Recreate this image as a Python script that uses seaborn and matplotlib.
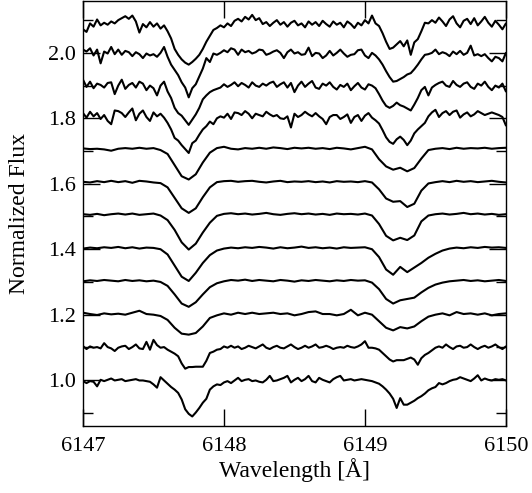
import numpy as np
import pandas as pd
import seaborn as sns
import matplotlib
matplotlib.use("Agg")
from matplotlib import pyplot as plt
from matplotlib.ticker import MultipleLocator, FormatStrFormatter

# wavelength sampling in Angstrom: fine grid for the noisy spectra, coarse for the smooth ones
wave_fine = np.linspace(6147.0, 6150.0, 121)
wave_coarse = np.linspace(6147.0, 6150.0, 61)

# vertical shift of each spectrum, bottom to top
offsets = [0.0, 0.102, 0.202, 0.304, 0.404, 0.507, 0.606, 0.708, 0.811, 0.903, 1.0, 1.084]

# normalized flux, bottom spectrum first
spec01 = [0.997, 0.991, 0.997, 0.995, 0.981, 1.001, 0.997, 1.001, 1.005, 0.999,
          1.001, 1.003, 0.997, 0.999, 1.001, 1.003, 0.999, 0.999, 0.997, 0.995,
          0.987, 0.977, 1.009, 0.999, 0.989, 0.979, 0.971, 0.961, 0.941, 0.911,
          0.897, 0.889, 0.901, 0.915, 0.931, 0.943, 0.971, 0.981, 0.987, 0.985,
          0.993, 0.997, 0.991, 0.999, 1.007, 0.997, 1.001, 1.003, 0.997, 0.999,
          0.995, 0.993, 1.001, 1.013, 0.997, 0.999, 1.003, 1.007, 1.013, 0.993,
          1.001, 1.007, 0.997, 1.003, 1.013, 0.997, 0.993, 1.007, 1.001, 0.997,
          0.993, 1.003, 1.009, 1.013, 0.999, 1.001, 1.003, 0.999, 1.001, 1.003,
          1.001, 0.999, 0.997, 0.993, 0.989, 0.981, 0.971, 0.959, 0.943, 0.915,
          0.945, 0.925, 0.925, 0.931, 0.937, 0.945, 0.951, 0.959, 0.969, 0.975,
          0.979, 0.991, 0.987, 0.991, 0.997, 1.001, 1.003, 1.009, 1.005, 1.001,
          0.997, 1.005, 1.015, 0.999, 1.005, 1.001, 0.999, 1.003, 1.001, 1.003,
          0.999]
spec02 = [1.002, 0.993, 1.001, 0.997, 0.999, 0.995, 1.011, 0.999, 0.995, 0.987,
          0.997, 1.001, 1.003, 0.993, 0.999, 1.007, 0.995, 0.993, 1.015, 0.991,
          1.021, 1.005, 0.997, 0.999, 0.991, 0.985, 0.979, 0.971, 0.949, 0.933,
          0.938, 0.938, 0.939, 0.939, 0.939, 0.957, 0.981, 0.985, 0.991, 0.993,
          1.001, 0.997, 1.003, 0.997, 1.001, 0.993, 0.997, 1.003, 0.999, 0.995,
          1.001, 1.007, 0.997, 0.993, 0.999, 1.003, 0.997, 0.995, 1.001, 1.007,
          0.999, 0.993, 0.997, 1.003, 0.997, 1.001, 1.007, 0.997, 0.999, 1.003,
          0.999, 0.993, 0.997, 0.999, 0.997, 1.003, 0.999, 0.997, 1.001, 1.007,
          1.017, 0.997, 0.997, 0.995, 0.991, 0.981, 0.971, 0.961, 0.955, 0.959,
          0.959, 0.959, 0.963, 0.967, 0.961, 0.945, 0.965, 0.975, 0.981, 0.989,
          0.997, 1.001, 0.997, 1.007, 0.999, 0.993, 1.001, 1.003, 0.997, 0.999,
          1.007, 0.999, 0.993, 0.999, 1.003, 0.997, 1.001, 1.007, 0.999, 0.993,
          1.001]
spec03 = [1.004, 1.000, 0.997, 1.002, 0.999, 1.001, 0.998, 1.004, 1.010, 1.000,
          0.998, 0.994, 0.982, 0.958, 0.940, 0.937, 0.942, 0.962, 0.988, 0.996,
          1.002, 0.998, 1.004, 1.000, 1.004, 1.000, 1.002, 1.004, 1.000, 1.002,
          0.996, 1.000, 1.006, 1.008, 1.000, 1.000, 0.996, 1.000, 1.013, 0.996,
          1.004, 0.998, 0.978, 0.958, 0.950, 0.960, 0.956, 0.962, 0.978, 0.992,
          0.998, 1.002, 0.996, 1.006, 1.000, 1.002, 0.998, 1.002, 0.996, 1.000,
          1.002]
spec04 = [0.998, 1.001, 0.999, 1.002, 1.000, 0.998, 1.002, 0.999, 1.001, 0.998,
          1.000, 0.996, 0.984, 0.958, 0.930, 0.920, 0.934, 0.958, 0.980, 0.992,
          0.998, 1.002, 1.000, 1.003, 0.999, 1.002, 1.000, 0.998, 1.002, 1.000,
          0.997, 1.001, 0.999, 1.002, 1.000, 0.998, 1.001, 0.999, 1.002, 1.000,
          1.001, 0.994, 0.974, 0.944, 0.930, 0.940, 0.944, 0.948, 0.964, 0.978,
          0.988, 0.994, 0.998, 1.000, 1.002, 0.999, 1.001, 0.998, 1.000, 1.002,
          0.999]
spec05 = [0.998, 1.001, 0.999, 1.002, 1.000, 1.003, 0.999, 1.002, 0.998, 1.001,
          1.000, 0.996, 0.980, 0.946, 0.912, 0.899, 0.924, 0.954, 0.978, 0.992,
          0.998, 1.001, 0.999, 1.002, 1.000, 1.003, 1.001, 0.998, 1.002, 0.999,
          1.001, 1.004, 1.000, 1.002, 0.999, 1.001, 0.998, 1.002, 1.000, 1.001,
          1.002, 0.996, 0.972, 0.934, 0.918, 0.942, 0.926, 0.940, 0.954, 0.970,
          0.982, 0.992, 0.998, 1.001, 0.999, 1.002, 1.000, 1.003, 1.001, 1.002,
          1.000]
spec06 = [1.000, 0.998, 1.001, 0.997, 1.000, 1.002, 0.999, 1.002, 0.998, 1.000,
          1.002, 0.996, 0.982, 0.952, 0.914, 0.892, 0.910, 0.944, 0.974, 0.995,
          1.001, 1.003, 1.000, 1.002, 0.999, 1.001, 1.004, 1.000, 0.998, 1.001,
          1.003, 1.000, 1.002, 0.999, 1.001, 0.998, 1.002, 1.000, 1.001, 0.999,
          1.002, 0.996, 0.970, 0.934, 0.920, 0.928, 0.921, 0.935, 0.978, 0.996,
          1.000, 1.002, 0.999, 1.001, 1.004, 1.000, 1.002, 0.999, 1.001, 0.998,
          1.000]
spec07 = [1.000, 0.998, 1.002, 0.999, 1.003, 0.999, 1.002, 0.997, 1.003, 1.001,
          0.998, 0.996, 0.983, 0.951, 0.919, 0.905, 0.919, 0.953, 0.983, 0.999,
          1.002, 1.003, 1.000, 1.002, 1.003, 1.000, 0.998, 1.001, 1.003, 0.999,
          1.001, 1.000, 1.002, 0.999, 1.001, 0.998, 1.002, 1.000, 1.001, 0.999,
          1.002, 0.998, 0.977, 0.949, 0.939, 0.941, 0.923, 0.933, 0.973, 0.995,
          0.999, 1.002, 0.999, 1.003, 1.000, 1.002, 0.999, 1.001, 1.003, 1.000,
          0.998]
spec08 = [1.000, 0.998, 0.999, 0.997, 0.993, 0.999, 1.001, 0.999, 1.002, 0.999,
          1.001, 0.995, 0.983, 0.949, 0.915, 0.905, 0.921, 0.957, 0.987, 1.001,
          1.005, 0.999, 0.997, 1.001, 0.999, 1.002, 0.999, 1.003, 1.001, 0.998,
          1.002, 1.000, 1.002, 0.999, 1.001, 0.998, 1.002, 1.000, 0.997, 1.001,
          1.005, 0.997, 0.967, 0.945, 0.935, 0.941, 0.930, 0.940, 0.969, 0.995,
          0.999, 1.001, 0.998, 1.002, 0.999, 1.001, 1.000, 1.002, 0.999, 1.001,
          1.002]
spec09 = [1.005, 0.991, 1.009, 0.995, 1.005, 0.987, 0.999, 0.981, 0.971, 1.013,
          1.011, 1.005, 0.993, 1.007, 1.019, 0.983, 1.003, 1.013, 0.993, 0.981,
          1.007, 0.995, 1.003, 0.991, 0.975, 0.955, 0.929, 0.921, 0.907, 0.895,
          0.883, 0.913, 0.921, 0.939, 0.955, 0.965, 0.979, 0.971, 0.989, 0.995,
          0.991, 1.003, 0.987, 1.007, 1.005, 0.999, 1.011, 1.003, 0.989, 1.003,
          0.999, 0.995, 1.009, 1.001, 0.995, 0.999, 0.989, 0.987, 0.995, 0.961,
          1.003, 0.993, 0.999, 1.009, 1.001, 0.995, 1.005, 0.995, 0.987, 0.971,
          0.993, 0.999, 0.999, 0.987, 0.993, 1.001, 0.975, 0.993, 0.999, 0.981,
          0.997, 1.005, 0.991, 0.983, 0.973, 0.953, 0.931, 0.917, 0.911, 0.925,
          0.933, 0.923, 0.907, 0.921, 0.943, 0.955, 0.965, 0.975, 0.995, 1.007,
          1.015, 0.993, 1.005, 1.011, 0.999, 1.009, 1.013, 0.991, 1.001, 1.007,
          0.995, 1.001, 1.011, 1.005, 0.999, 1.003, 1.007, 1.003, 0.999, 0.993,
          0.967]
spec10 = [1.015, 0.993, 1.009, 0.989, 1.003, 0.999, 0.991, 1.005, 1.007, 0.971,
          0.997, 1.015, 0.987, 0.999, 1.005, 0.991, 1.009, 1.003, 0.983, 0.997,
          0.989, 0.967, 0.997, 1.009, 0.979, 0.959, 0.929, 0.913, 0.905, 0.891,
          0.877, 0.893, 0.909, 0.929, 0.955, 0.967, 0.977, 0.983, 0.987, 0.991,
          1.001, 0.993, 0.999, 1.007, 0.995, 1.005, 0.999, 0.991, 1.007, 0.997,
          0.993, 1.003, 0.997, 1.005, 1.009, 0.993, 1.001, 1.007, 0.991, 1.005,
          0.977, 0.997, 1.009, 0.993, 1.003, 1.011, 0.991, 0.987, 1.003, 0.997,
          1.007, 0.993, 0.985, 0.999, 0.993, 1.003, 0.983, 0.995, 1.005, 0.991,
          0.985, 1.001, 0.997, 0.989, 0.971, 0.951, 0.935, 0.929, 0.935, 0.945,
          0.937, 0.933, 0.927, 0.921, 0.939, 0.959, 0.983, 0.993, 0.967, 0.991,
          0.999, 1.005, 1.009, 0.997, 0.993, 1.011, 0.999, 0.993, 1.003, 1.007,
          0.993, 0.987, 1.003, 0.997, 1.009, 0.993, 0.983, 0.997, 0.991, 1.003,
          0.979]
spec11 = [1.010, 1.004, 1.014, 0.992, 1.010, 0.968, 1.004, 0.998, 1.018, 0.996,
          1.010, 0.994, 1.006, 1.002, 0.990, 1.002, 0.996, 0.984, 0.998, 0.992,
          0.996, 0.988, 1.000, 1.018, 0.988, 0.964, 0.948, 0.932, 0.910, 0.894,
          0.864, 0.892, 0.904, 0.928, 0.952, 0.984, 0.972, 0.998, 0.994, 1.000,
          1.008, 1.002, 1.014, 1.010, 0.994, 1.010, 1.002, 1.006, 0.998, 1.002,
          1.010, 1.008, 0.994, 0.998, 1.004, 1.008, 1.000, 0.984, 1.002, 1.010,
          0.998, 1.002, 0.994, 0.996, 1.016, 0.990, 1.000, 0.998, 0.984, 0.992,
          1.006, 0.992, 1.000, 1.010, 0.998, 0.988, 0.994, 0.996, 1.008, 1.010,
          0.992, 0.984, 1.000, 0.992, 0.980, 0.964, 0.944, 0.926, 0.912, 0.914,
          0.920, 0.926, 0.934, 0.938, 0.950, 0.964, 0.980, 0.994, 0.996, 1.000,
          1.010, 0.996, 1.002, 0.998, 0.990, 1.004, 0.996, 1.006, 0.994, 1.000,
          1.022, 0.992, 0.996, 0.990, 0.996, 0.984, 0.974, 0.988, 0.984, 0.974,
          1.000]
spec12 = [0.988, 0.980, 1.006, 0.996, 1.018, 1.000, 1.008, 1.002, 1.012, 1.006,
          1.016, 1.022, 1.028, 1.020, 1.030, 1.012, 0.978, 1.004, 0.994, 1.010,
          0.996, 1.006, 0.990, 1.000, 0.982, 0.960, 0.928, 0.910, 0.896, 0.886,
          0.880, 0.888, 0.898, 0.910, 0.928, 0.950, 0.968, 0.986, 0.992, 1.000,
          0.994, 1.006, 0.998, 1.014, 1.020, 1.012, 1.026, 1.018, 1.032, 1.016,
          1.022, 1.004, 1.010, 0.998, 1.008, 1.016, 1.002, 1.010, 0.996, 1.008,
          1.014, 1.000, 1.006, 0.994, 1.012, 1.002, 1.010, 0.998, 1.014, 1.004,
          0.996, 1.012, 1.002, 1.008, 0.994, 1.012, 1.004, 0.992, 1.008, 1.000,
          1.016, 1.006, 1.030, 1.006, 0.998, 0.976, 0.950, 0.928, 0.932, 0.942,
          0.952, 0.936, 0.954, 0.910, 0.948, 0.958, 0.982, 1.008, 1.006, 1.016,
          1.008, 1.024, 1.012, 0.998, 1.018, 1.028, 1.006, 0.994, 1.014, 1.020,
          1.004, 1.022, 1.000, 1.012, 1.026, 1.008, 0.996, 1.014, 1.002, 0.988,
          1.006]

spectra = [spec01, spec02, spec03, spec04, spec05, spec06,
           spec07, spec08, spec09, spec10, spec11, spec12]

# long-form table, one block per spectrum
frames = []
for k, (flux, off) in enumerate(zip(spectra, offsets)):
    wave = wave_fine if len(flux) == len(wave_fine) else wave_coarse
    frames.append(pd.DataFrame({"wave": wave, "flux": np.array(flux) + off, "spec": k}))
df = pd.concat(frames, ignore_index=True)

sns.set_style("ticks")
plt.rcParams["font.family"] = ["Liberation Serif", "DejaVu Serif"]
plt.rcParams["text.color"] = "black"
plt.rcParams["axes.labelcolor"] = "black"

fig = plt.figure(figsize=(5.32, 4.93), dpi=100)
ax = fig.add_axes([0.156, 0.136, 0.795, 0.861])

sns.lineplot(data=df, x="wave", y="flux", hue="spec", palette=["black"] * len(spectra),
             estimator=None, sort=False, legend=False, linewidth=1.5, ax=ax)

ax.set_xlim(6147, 6150)
ax.set_ylim(0.86, 2.157)
ax.xaxis.set_major_locator(MultipleLocator(1))
ax.xaxis.set_major_formatter(FormatStrFormatter("%d"))
ax.yaxis.set_major_locator(MultipleLocator(0.2))
ax.yaxis.set_minor_locator(MultipleLocator(0.1))
ax.yaxis.set_major_formatter(FormatStrFormatter("%.1f"))
ax.tick_params(which="both", direction="in", top=True, right=True, colors="black",
               labelcolor="black", labelsize=16, width=1.0)
ax.tick_params(axis="x", which="major", length=12, pad=8)
ax.tick_params(axis="y", which="major", length=12, pad=5)
ax.tick_params(axis="y", which="minor", length=7)
for side in ax.spines.values():
    side.set_linewidth(1.0)
    side.set_color("black")

ax.set_xlabel("Wavelength [Å]", fontsize=17)
ax.set_ylabel("Normalized Flux", fontsize=17)
ax.xaxis.set_label_coords(0.5, -0.075)
ax.yaxis.set_label_coords(-0.125, 0.5)

fig.savefig("out.png", dpi=100)
